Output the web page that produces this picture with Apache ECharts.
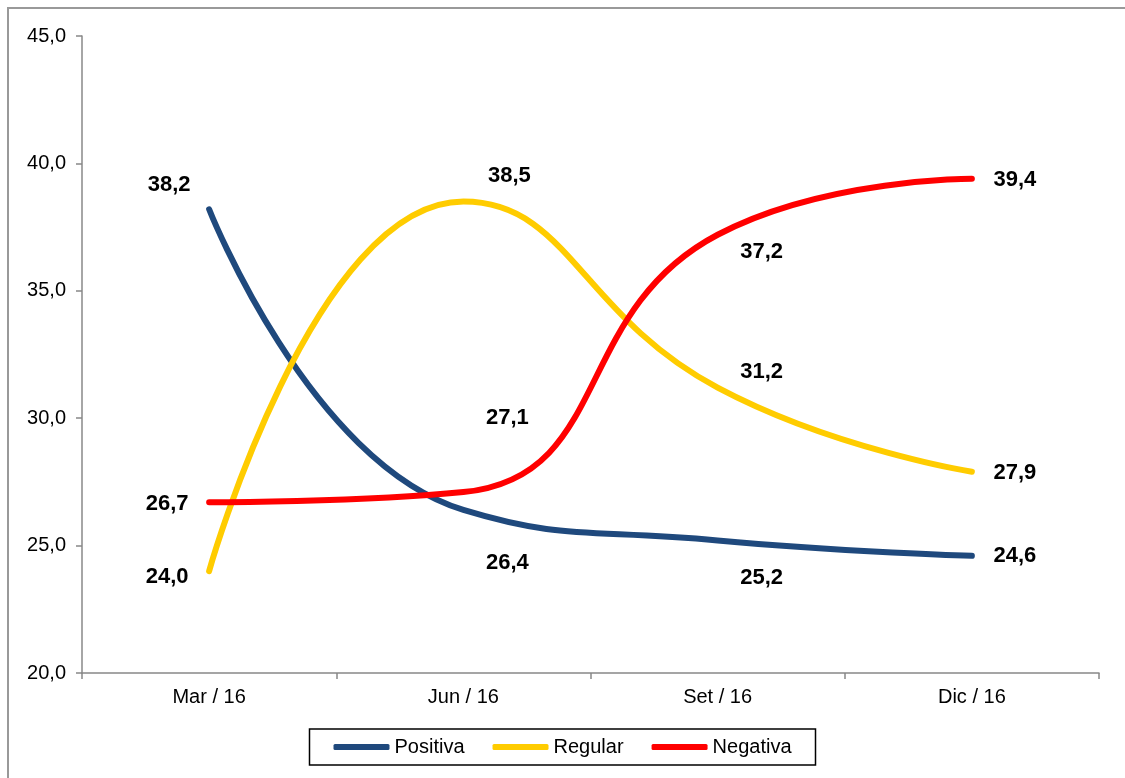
<!DOCTYPE html>
<html><head><meta charset="utf-8">
<script src="https://cdn.jsdelivr.net/npm/echarts@6/dist/echarts.min.js"></script>
<style>html,body{margin:0;padding:0;background:#fff}#c{width:1125px;height:778px}</style>
</head><body><div id="c"></div>
<script>
const categories = ['Mar / 16', 'Jun / 16', 'Set / 16', 'Dic / 16'];
const positiva = [38.2, 26.4, 25.2, 24.6];
const regular = [24.0, 38.5, 31.2, 27.9];
const negativa = [26.7, 27.1, 37.2, 39.4];
const yTicks = [20, 25, 30, 35, 40, 45];

const posOff = [[-40, -24], [44, 53], [44, 37], [43, 0]];
const regOff = [[-42, 6], [46, -26], [44, -16], [43, 1]];
const negOff = [[-42, 2], [44, -74], [44, 17], [43, 1]];

function mk(vals, offs) {
  return vals.map((v, i) => ({
    value: v,
    label: { offset: offs[i] }
  }));
}
const fmt = p => p.value.toFixed(1).replace('.', ',');
const labelBase = {
  show: true, position: 'inside', formatter: fmt,
  fontFamily: 'Liberation Sans', fontWeight: 'bold', fontSize: 22, color: '#000'
};
function series(name, vals, offs, color) {
  return {
    name, type: 'line', smooth: 0.5, data: mk(vals, offs),
    symbol: 'circle', symbolSize: 1, showSymbol: true,
    itemStyle: { color },
    lineStyle: { color, width: 6, cap: 'round' },
    label: labelBase, emphasis: { disabled: true }, z: 2
  };
}
const chart = echarts.init(document.getElementById('c'));
chart.setOption({
  animation: false,
  grid: { left: 82, right: 26, top: 36, bottom: 105 },
  graphic: [{
    type: 'polyline', shape: { points: [[8, 778], [8, 8], [1125, 8]] },
    style: { stroke: '#999', lineWidth: 2, fill: null }
  }],
  legend: {
    bottom: 13, left: 'center',
    data: ['Positiva', 'Regular', 'Negativa'],
    icon: 'roundRect', itemWidth: 56, itemHeight: 6, itemGap: 28,
    borderColor: '#000', borderWidth: 1.5, padding: [8, 24, 8, 24],
    textStyle: { fontFamily: 'Liberation Sans', fontSize: 20, color: '#000' }
  },
  xAxis: {
    type: 'category', data: categories, boundaryGap: true,
    axisLine: { lineStyle: { color: '#888', width: 1.5 } },
    axisTick: { show: true, length: 6, lineStyle: { color: '#888', width: 1.5 } },
    axisLabel: { fontFamily: 'Liberation Sans', fontSize: 20, color: '#000', margin: 14 }
  },
  yAxis: {
    type: 'value', min: yTicks[0], max: yTicks[yTicks.length - 1], interval: 5,
    splitLine: { show: false },
    axisLine: { show: true, lineStyle: { color: '#888', width: 1.5 } },
    axisTick: { show: true, length: 6, lineStyle: { color: '#888', width: 1.5 } },
    axisLabel: { fontFamily: 'Liberation Sans', fontSize: 20, color: '#000', margin: 16,
      formatter: v => v.toFixed(1).replace('.', ',') }
  },
  series: [
    series('Positiva', positiva, posOff, '#1F497D'),
    series('Regular', regular, regOff, '#FFCC00'),
    series('Negativa', negativa, negOff, '#FF0000')
  ]
});
</script></body></html>
